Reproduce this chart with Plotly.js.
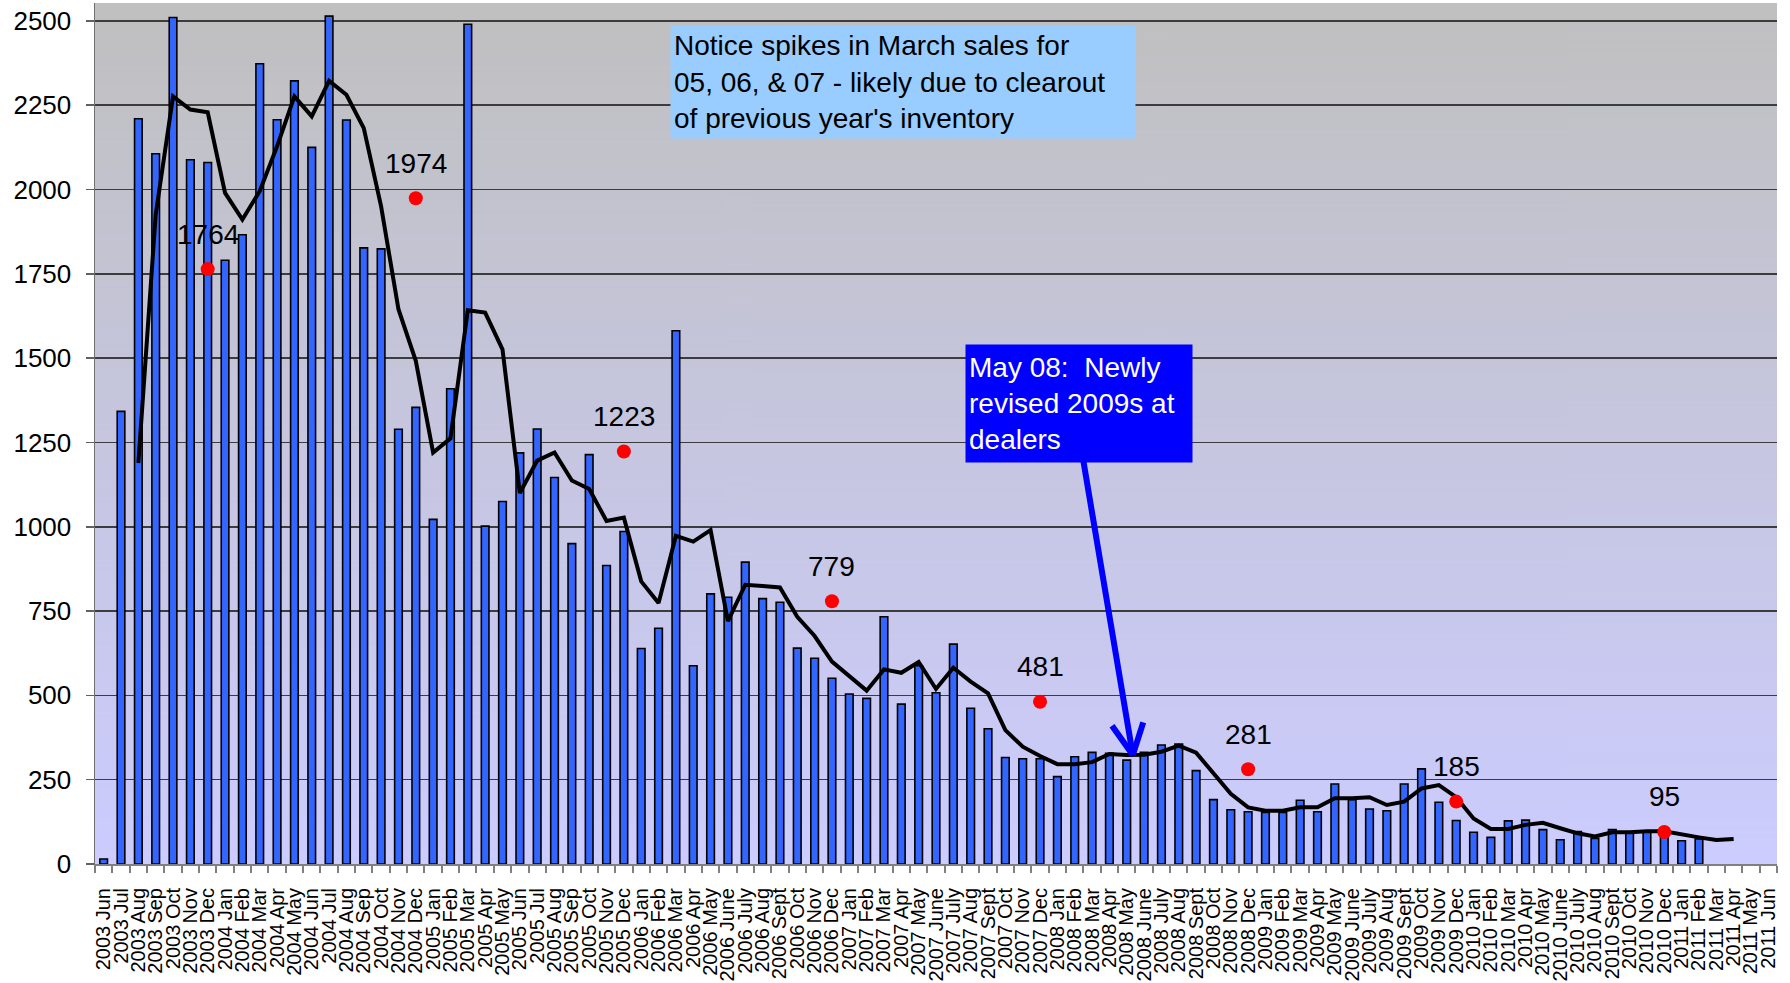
<!DOCTYPE html>
<html>
<head>
<meta charset="utf-8">
<script src="https://cdn.plot.ly/plotly-3.0.1.min.js"></script>
<style>html,body{margin:0;padding:0;background:#fff;}#chart{width:1790px;height:983px;}</style>
</head>
<body>
<div id="chart"></div>
<script>
// ---- categories (month labels) ----
const months = [
 "2003 Jun","2003 Jul","2003 Aug","2003 Sep","2003 Oct","2003 Nov","2003 Dec",
 "2004 Jan","2004 Feb","2004 Mar","2004 Apr","2004 May","2004 Jun","2004 Jul","2004 Aug","2004 Sep","2004 Oct","2004 Nov","2004 Dec",
 "2005 Jan","2005 Feb","2005 Mar","2005 Apr","2005 May","2005 Jun","2005 Jul","2005 Aug","2005 Sep","2005 Oct","2005 Nov","2005 Dec",
 "2006 Jan","2006 Feb","2006 Mar","2006 Apr","2006 May","2006 June","2006 July","2006 Aug","2006 Sept","2006 Oct","2006 Nov","2006 Dec",
 "2007 Jan","2007 Feb","2007 Mar","2007 Apr","2007 May","2007 June","2007 July","2007 Aug","2007 Sept","2007 Oct","2007 Nov","2007 Dec",
 "2008 Jan","2008 Feb","2008 Mar","2008 Apr","2008 May","2008 June","2008 July","2008 Aug","2008 Sept","2008 Oct","2008 Nov","2008 Dec",
 "2009 Jan","2009 Feb","2009 Mar","2009 Apr","2009 May","2009 June","2009 July","2009 Aug","2009 Sept","2009 Oct","2009 Nov","2009 Dec",
 "2010 Jan","2010 Feb","2010 Mar","2010 Apr","2010 May","2010 June","2010 July","2010 Aug","2010 Sept","2010 Oct","2010 Nov","2010 Dec",
 "2011 Jan","2011 Feb","2011 Mar","2011 Apr","2011 May","2011 Jun"
];

// ---- monthly sales (bars) ----
const monthlySales = [
 15,1342,2210,2106,2510,2088,2080,
 1790,1866,2373,2207,2322,2125,2514,2206,1827,1824,1289,1354,
 1022,1409,2490,1002,1075,1219,1290,1146,950,1214,885,986,
 639,699,1581,588,801,791,895,787,776,640,610,551,
 504,491,733,474,588,508,652,462,401,316,312,312,
 259,318,331,328,308,331,353,356,277,191,161,155,
 153,153,189,155,237,191,163,158,237,282,183,129,
 94,79,128,130,102,72,96,76,102,94,94,90,
 69,74,null,null,null,null
];

// ---- trend line ----
const trendLine = [
 null,null,1189,1925,2276,2237,2229,
 1990,1911,1995,2128,2276,2217,2322,2281,2182,1950,1645,1492,
 1220,1262,1642,1635,1526,1100,1196,1220,1137,1112,1017,1027,
 838,774,973,956,990,720,828,824,820,733,676,600,
 556,514,577,567,599,519,582,541,506,397,348,320,
 296,296,302,326,323,324,333,351,330,268,208,168,
 158,158,168,168,195,195,198,175,185,224,234,198,
 135,104,104,116,122,106,91,82,94,94,97,97,
 87,79,71,74,null,null
];

// ---- December markers ----
const decMonths = ["2003 Dec","2004 Dec","2005 Dec","2006 Dec","2007 Dec","2008 Dec","2009 Dec","2010 Dec"];
const decValues = [1764,1974,1223,779,481,281,185,95];

const noteText = "Notice spikes in March sales for<br>05, 06, &amp; 07 - likely due to clearout<br>of previous year's inventory";
const mayText = "May 08:&nbsp; Newly<br>revised 2009s at<br>dealers";

// background gradient image
const cv = document.createElement('canvas');
cv.width = 4; cv.height = 512;
const ctx = cv.getContext('2d');
const g = ctx.createLinearGradient(0,0,0,512);
g.addColorStop(0,'#C0C0C0');
g.addColorStop(1,'#CCCCFF');
ctx.fillStyle = g; ctx.fillRect(0,0,4,512);
const bgURI = cv.toDataURL('image/png');

const FONT = '"Liberation Sans", Arial, sans-serif';

const traces = [
 {type:'bar', x:months, y:monthlySales, marker:{color:'#3366FF', line:{color:'#000000', width:1.6}}, hoverinfo:'skip'},
 {type:'scatter', mode:'lines', x:months, y:trendLine, line:{color:'#000000', width:4}, connectgaps:false, hoverinfo:'skip'},
 {type:'scatter', mode:'markers', x:decMonths, y:decValues,
  marker:{color:'#FF0000', size:14}, cliponaxis:false, hoverinfo:'skip'}
];

const decLabels = decMonths.map((m,i) => ({
  xref:'x', yref:'y', x:m, y:decValues[i], text:String(decValues[i]), showarrow:false,
  xanchor:'center', yanchor:'middle', yshift:35,
  font:{family:FONT, size:28, color:'#000000'}
}));

// arrow geometry (category-index / value coords)
const arrowStart = {x:56.5, y:1195};
const arrowTip = {x:59.35, y:323};
const armL = {x:58.15, y:410};
const armR = {x:59.95, y:420};

const layout = {
 width:1790, height:983,
 margin:{l:95, r:13, t:3, b:119, pad:0},
 paper_bgcolor:'#FFFFFF',
 plot_bgcolor:'rgba(0,0,0,0)',
 showlegend:false,
 hovermode:false,
 bargap:0.56,
 font:{family:FONT, color:'#000000'},
 images:[{source:bgURI, xref:'paper', yref:'paper', x:0, y:1, sizex:1, sizey:1, sizing:'stretch', layer:'below'}],
 xaxis:{
  type:'category', automargin:false,
  tickmode:'array', tickvals:months, ticktext:months,
  tickangle:-90, tickfont:{family:FONT, size:20, color:'#000000'},
  ticks:'outside', tickson:'boundaries', ticklen:7, tickwidth:2, tickcolor:'#808080',
  showline:true, linecolor:'#808080', linewidth:2,
  showgrid:false, zeroline:false,
  range:[-0.5, 96.5], ticklabelstandoff:14
 },
 yaxis:{
  automargin:false,
  range:[0,2553], tickmode:'linear', tick0:0, dtick:250,
  tickfont:{family:FONT, size:26, color:'#000000'},
  ticks:'outside', ticklen:8, tickwidth:1.5, tickcolor:'#606060',
  showline:true, linecolor:'#707070', linewidth:1.5,
  showgrid:true, gridcolor:'#3C3C3C', gridwidth:1.5,
  zeroline:false, ticklabelstandoff:9
 },
 annotations:[
  {xref:'paper', yref:'paper', x:(670-95)/1682, y:1-(25-3)/861, xanchor:'left', yanchor:'top',
   text:noteText, showarrow:false, align:'left', valign:'middle', bgcolor:'#99CCFF', width:458, height:106, borderpad:3,
   font:{family:FONT, size:28, color:'#000000'}},
  {xref:'paper', yref:'paper', x:(965-95)/1682, y:1-(344-3)/861, xanchor:'left', yanchor:'top',
   text:mayText, showarrow:false, align:'left', valign:'middle', bgcolor:'#0000FF', width:220, height:111, borderpad:3,
   font:{family:FONT, size:28, color:'#FFFFFF'}}
 ].concat(decLabels),
 shapes:[
  {type:'line', xref:'x', yref:'y', x0:arrowStart.x, y0:arrowStart.y, x1:arrowTip.x, y1:arrowTip.y, line:{color:'#0000FF', width:6}},
  {type:'line', xref:'x', yref:'y', x0:armL.x, y0:armL.y, x1:arrowTip.x, y1:arrowTip.y, line:{color:'#0000FF', width:6}},
  {type:'line', xref:'x', yref:'y', x0:armR.x, y0:armR.y, x1:arrowTip.x, y1:arrowTip.y, line:{color:'#0000FF', width:6}}
 ]
};

Plotly.newPlot('chart', traces, layout, {staticPlot:true, displayModeBar:false});
</script>
</body>
</html>
